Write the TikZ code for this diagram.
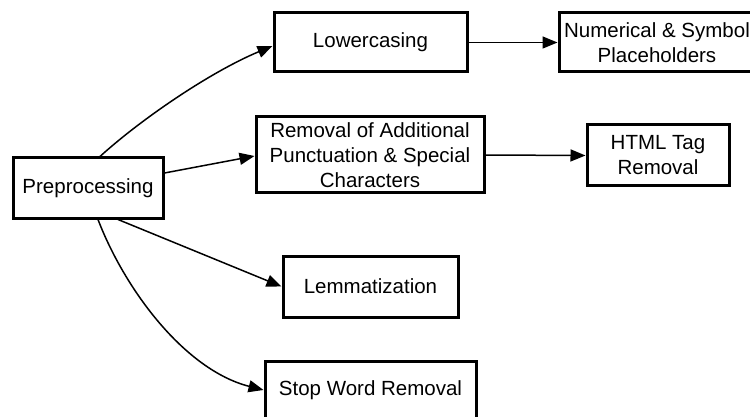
\documentclass[tikz,border=0pt]{standalone}
\usepackage{fontspec}
\setmainfont{Liberation Sans}
\usetikzlibrary{arrows.meta}
\begin{document}
\begin{tikzpicture}[x=1pt,y=-1pt,
  box/.style={draw=black, line width=3pt, inner sep=0pt, align=center,
    font=\fontsize{20.5}{25}\selectfont},
  conn/.style={line width=1.5pt, -{Triangle[length=15pt,width=12pt]}}]
\clip (0,0) rectangle (750,417);
\fill[white] (0,0) rectangle (750,417);
\node[box, minimum width=150pt, minimum height=60pt] (pre) at (88,188) {Preprocessing};
\node[box, minimum width=193pt, minimum height=59pt] (low) at (370.5,42.5) {Lowercasing};
\node[box, minimum width=196pt, minimum height=59pt] (num) at (657,42.5) {Numerical \& Symbol\\Placeholders};
\node[box, minimum width=228pt, minimum height=76pt] (rem) at (370,155) {Removal of Additional\\Punctuation \& Special\\Characters};
\node[box, minimum width=142pt, minimum height=61pt] (html) at (658,155.5) {HTML Tag\\Removal};
\node[box, minimum width=175pt, minimum height=61pt] (lem) at (370.5,286.5) {Lemmatization};
\node[box, minimum width=211pt, minimum height=58pt] (stop) at (370.5,390) {Stop Word Removal};
\draw[conn] (pre.north -| 100,0) .. controls (140,120) and (210,72) .. (low.west |- 0,46);
\draw[conn] (pre.east |- 0,173) -- (rem.west |- 0,156);
\draw[conn] (low.east) -- (num.west);
\draw[conn] (rem.east) -- (html.west);
\draw[conn] (pre.south -| 118,0) -- (lem.west);
\draw[conn] (pre.south -| 98,0) .. controls (125,290) and (185,370) .. (stop.west);
\end{tikzpicture}
\end{document}
